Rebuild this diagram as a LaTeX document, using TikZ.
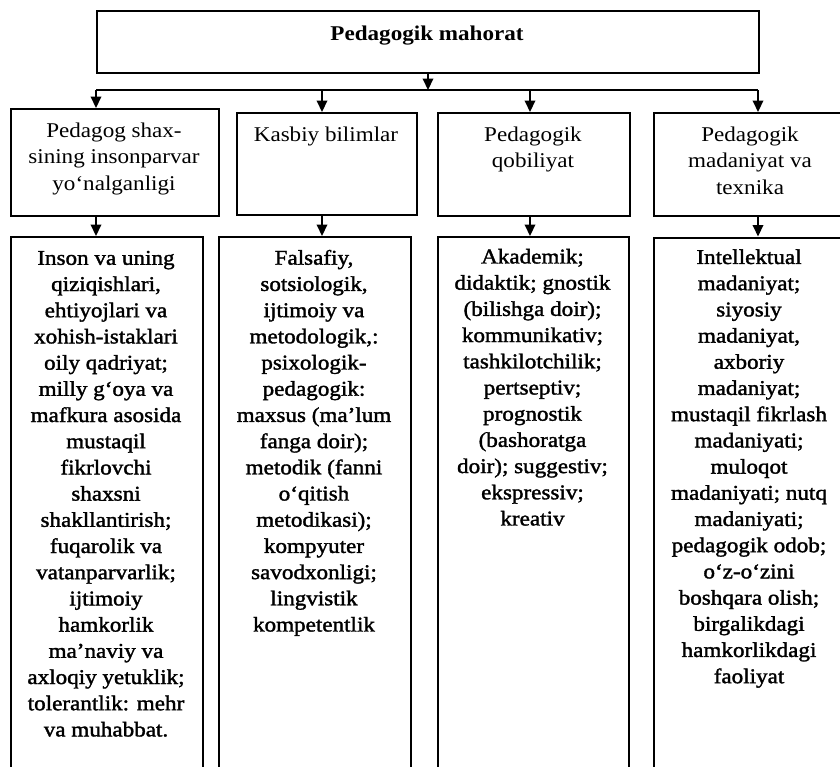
\documentclass[tikz,border=0pt]{standalone}
\usepackage{fontspec}
\setmainfont{Liberation Serif}[FakeStretch=1.1]
\newfontfamily\heavyserif{Liberation Serif}[FakeStretch=1.1,FakeBold=1.6]
\usetikzlibrary{arrows.meta}
\begin{document}
\begin{tikzpicture}[x=1pt,y=-1pt,
  box/.style={draw, line width=2.1pt, rectangle, inner sep=0pt, anchor=north west},
  txt/.style={inner sep=0pt, align=center, anchor=north, font=\fontsize{21}{26.3}\selectfont},
  btxt/.style={inner sep=0pt, align=center, anchor=north, font=\heavyserif\fontsize{21}{26.2}\selectfont},
  ttl/.style={inner sep=0pt, anchor=base, font=\fontsize{21}{26.3}\selectfont\bfseries},
  conn/.style={line width=2.1pt},
  arr/.style={line width=2.1pt, -{Triangle[width=10.5pt,length=11.5pt]}}]
\clip (0,0) rectangle (840,766);
\useasboundingbox (0,0) rectangle (840,766);
% top box
\node[box, line width=2.3pt, minimum width=662pt, minimum height=62pt] (top) at (96,9.5) {};
\node[ttl] (ttitle) at (427,40) {Pedagogik mahorat};
% junction coordinates
\coordinate (hub) at (428,90);
\coordinate (j1) at (96,90);
\coordinate (j2) at (322,90);
\coordinate (j3) at (530,90);
\coordinate (j4) at (758,90);
% second row boxes
\node[box, minimum width=208pt, minimum height=107pt] (b1) at (10,108) {};
\node[box, minimum width=180pt, minimum height=102pt] (b2) at (236,112) {};
\node[box, minimum width=192pt, minimum height=103pt] (b3) at (437,112) {};
\node[box, minimum width=195pt, minimum height=103pt] (b4) at (653,112) {};
\node[txt] (t1) at (114,122.7) {Pedagog shax-\\sining insonparvar\\yo‘nalganligi};
\node[txt] (t2) at (326,126.7) {Kasbiy bilimlar};
\node[txt] (t3) at (533,126.7) {Pedagogik\\qobiliyat};
\node[txt] (t4) at (750,126.7) {Pedagogik\\madaniyat va\\texnika};
% third row boxes
\node[box, minimum width=192pt, minimum height=560pt] (c1) at (10,236) {};
\node[box, minimum width=192pt, minimum height=560pt] (c2) at (218,236) {};
\node[box, minimum width=191pt, minimum height=560pt] (c3) at (437,236) {};
\node[box, minimum width=193pt, minimum height=560pt] (c4) at (653,236.5) {};
\node[btxt] (s1) at (106,250.7) {Inson va uning\\qiziqishlari,\\ehtiyojlari va\\xohish-istaklari\\oily qadriyat;\\milly g‘oya va\\mafkura asosida\\mustaqil\\fikrlovchi\\shaxsni\\shakllantirish;\\fuqarolik va\\vatanparvarlik;\\ijtimoiy\\hamkorlik\\ma’naviy va\\axloqiy yetuklik;\\tolerantlik: mehr\\va muhabbat.};
\node[btxt] (s2) at (314,249.7) {Falsafiy,\\sotsiologik,\\ijtimoiy va\\metodologik,:\\psixologik-\\pedagogik:\\maxsus (ma’lum\\fanga doir);\\metodik (fanni\\o‘qitish\\metodikasi);\\kompyuter\\savodxonligi;\\lingvistik\\kompetentlik};
\node[btxt] (s3) at (532.5,248.7) {Akademik;\\didaktik; gnostik\\(bilishga doir);\\kommunikativ;\\tashkilotchilik;\\pertseptiv;\\prognostik\\(bashoratga\\doir); suggestiv;\\ekspressiv;\\kreativ};
\node[btxt] (s4) at (749,249.2) {Intellektual\\madaniyat;\\siyosiy\\madaniyat,\\axboriy\\madaniyat;\\mustaqil fikrlash\\madaniyati;\\muloqot\\madaniyati; nutq\\madaniyati;\\pedagogik odob;\\o‘z-o‘zini\\boshqara olish;\\birgalikdagi\\hamkorlikdagi\\faoliyat};
% connectors
\draw[arr] (top.south -| hub) -- (hub);
\draw[conn] (j1) -- (j4);
\draw[arr] (j1) -- (j1 |- b1.north);
\draw[arr] (j2) -- (j2 |- b2.north);
\draw[arr] (j3) -- (j3 |- b3.north);
\draw[arr] (j4) -- (j4 |- b4.north);
\draw[arr] (b1.south -| j1) -- (j1 |- c1.north);
\draw[arr] (b2.south -| j2) -- (j2 |- c2.north);
\draw[arr] (b3.south -| j3) -- (j3 |- c3.north);
\draw[arr] (b4.south -| j4) -- (j4 |- c4.north);
\end{tikzpicture}
\end{document}
